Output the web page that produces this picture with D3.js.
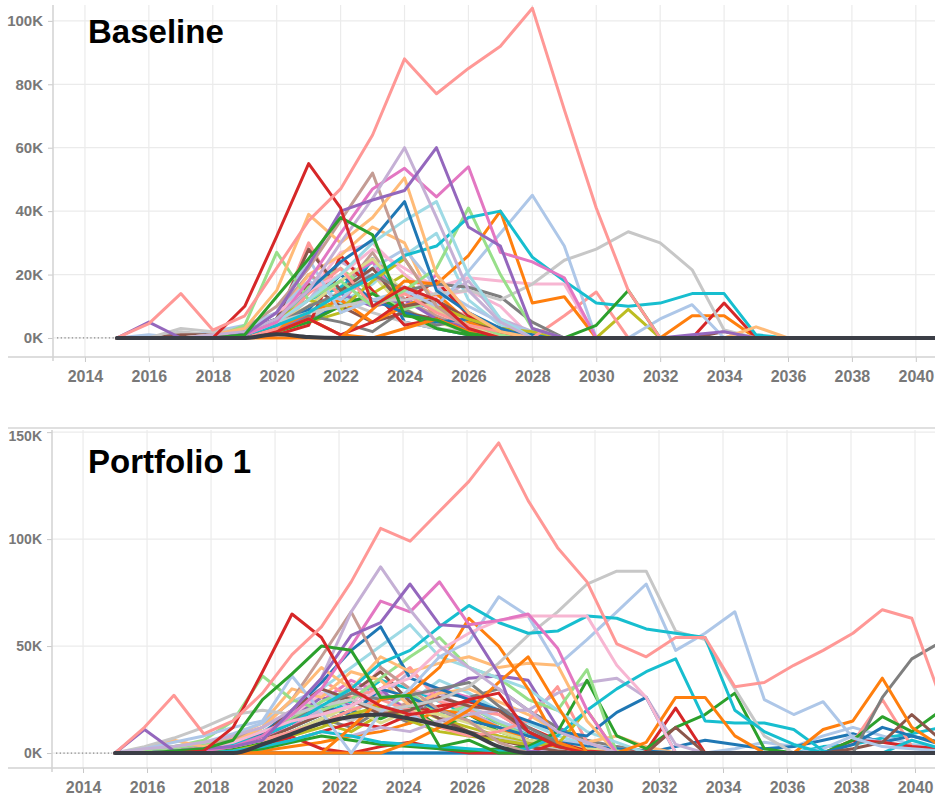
<!DOCTYPE html>
<html>
<head>
<meta charset="utf-8">
<script src="https://cdn.jsdelivr.net/npm/d3@7"></script>
<style>
  body { margin: 0; background: #fff; }
  svg { display: block; }
</style>
</head>
<body>
<svg id="chart" width="935" height="795"></svg>
<script>
// ---- Time axes -------------------------------------------------------------
const baselineYears = [2015, 2016, 2017, 2018, 2019, 2020, 2021, 2022, 2023, 2024,
  2025, 2026, 2027, 2028, 2029, 2030, 2031, 2032, 2033, 2034,
  2035, 2036, 2037, 2038, 2039, 2040, 2041];
const portfolioYears = [2015.00, 2015.92, 2016.84, 2017.77, 2018.69, 2019.61, 2020.53,
  2021.45, 2022.38, 2023.30, 2024.22, 2025.14, 2026.06, 2026.99, 2027.91, 2028.83,
  2029.75, 2030.68, 2031.60, 2032.52, 2033.44, 2034.37, 2035.29, 2036.21, 2037.13,
  2038.06, 2038.98, 2039.90, 2040.82];

const yearTicks = [2014, 2016, 2018, 2020, 2022, 2024, 2026, 2028, 2030, 2032, 2034, 2036, 2038, 2040];
const baselineValueTicks = [0, 20, 40, 60, 80, 100];
const portfolioValueTicks = [0, 50, 100, 150];

// ---- Baseline: volume per line item, thousands ----------------------------
const baselineVolumes = [
  [0,4.5,14,2.5,7, 22,37,47,64,88, 77,85,92,104,72, 41,15,0,0,0, 0,0,0,0,0, 0,0],
  [0,0,0,0,10, 32,55,41,10,16, 12,3,0,0,0, 0,0,0,0,0, 0,0,0,0,0, 0,0],
  [0,0,0,0,1, 13,25,38,32.5,7, 5.7,1.5,0,0,0, 4,15,0,0,0, 0,0,0,0,0, 0,0],
  [0,5,0,0,1, 8,23,40,43.5,46.5, 60,35,29,3,0, 0,0,0,1,2, 0,0,0,0,0, 0,0],
  [0,0,0,1,2, 6,15,30,44,60, 38,15,5,0,0, 0,0,0,0,0, 0,0,0,0,0, 0,0],
  [0,0,0,0,1, 5,18,33,47,53.5, 44.5,54,27,24,19, 0,0,0,0,0, 0,0,0,0,0, 0,0],
  [0,0,0,1,3, 15,39,30,38,50.5, 20,8,2,0,0, 0,0,0,0,0, 3.5,0,0,0,0, 0,0],
  [0,0,0,0,3, 10,22,37,52,25, 10,3,0,0,0, 0,0,0,0,0, 0,0,0,0,0, 0,0],
  [0,0,0,0,2, 6,15,24,31,43, 15,8,3,0,0, 0,0,0,0,0, 0,0,0,0,0, 0,0],
  [0,0,0,0,1, 5,12,20,30,37, 43,20,6,0,0, 0,0,0,0,0, 0,0,0,0,0, 0,0],
  [0,0,0,0,1, 4,8,14,19,26, 29,38,40,25.5,18, 11,10,11,14,14, 1,0,0,0,0, 0,0],
  [0,0,0,0,4, 27,12,18,10,15, 22,41,20,3,0, 0,0,0,0,0, 0,0,0,0,0, 0,0],
  [0,0,0,0,0, 0,0,0,9,18, 17,26,40,11,13, 0,0,0,0,0, 0,0,0,0,0, 0,0],
  [0,0,0,1,2, 8,25,8,12,15, 10,21,33,45,29, 0,0,6,10.5,0, 0,0,0,0,0, 0,0],
  [0,0,3,2,3, 5,8,10,12,12, 14,15,12,17,24.5, 28,33.5,30,21.5,2.5, 0,0,0,0,0, 0,0],
  [0,0,0,0,1, 4,10,14,20,15, 17,16,13,5,0, 0,0,0,0,0, 0,0,0,0,0, 0,0],
  [0,0,0,0,2, 8,15,20,28,22, 16,19,18,17,17, 0,0,0,0,0, 0,0,0,0,0, 0,0],
  [0,0,0,0,0, 3,14,22,10,14, 8,4,2,0,7, 14.5,0,0,0,0, 0,0,0,0,0, 0,0],
  [0,0,0,0,1, 6,12,9,18,25, 10,6,3,2,0, 0,9,0,0,0, 0,0,0,0,0, 0,0],
  [0,0,0,0,0, 2,6,1,5,12, 18,7,3,0,0, 0,0,0,0,11, 0,0,0,0,0, 0,0],
  [0,0,0,0,0, 2,6,1,0,3, 6,2,0,0,0, 0,0,0,7,7, 0,0,0,0,0, 0,0],
  [0,0,1,1,2, 6,28,15,22,10, 12,6,2,0,0, 0,0,0,0,2, 0,0,0,0,0, 0,0],
  [0,0,0,0,1, 5,10,18,25,14, 9,4,0,0,0, 0,0,0,0,0, 0,0,0,0,0, 0,0],
  [0,0,0,0,1, 4,9,20,12,8, 5,6,3,1,0, 0,0,0,0,0, 0,0,0,0,0, 0,0],
  [0,1,0,2,4, 8,18,12,22,28, 16,10,5,2,0, 0,0,0,0,0, 0,0,0,0,0, 0,0],
  [0,0,0,0,0, 3,8,12,5,10, 14,5,2,0,0, 0,0,0,0,0, 0,0,0,0,0, 0,0],
  [0,0,0,0,2, 6,20,26,35,30, 9,6,2,0,0, 0,0,0,0,0, 0,0,0,0,0, 0,0],
  [0,0,0,0,0, 2,5,10,14,8, 3,1,0,0,0, 0,0,0,0,0, 0,0,0,0,0, 0,0],
  [0,0,0,0,1, 3,16,22,14,9, 12,5,1,0,0, 0,0,0,0,0, 0,0,0,0,0, 0,0],
  [0,0,0,0,0, 1,4,26,15,4, 6,2,0,0,0, 0,0,0,0,0, 0,0,0,0,0, 0,0],
  [0,0,0,0,1, 5,30,12,20,14, 10,7,3,1,0, 0,0,0,0,0, 0,0,0,0,0, 0,0],
  [0,0,0,0,1, 2,8,14,10,12, 6,3,1,0,0, 0,0,0,0,0, 0,0,0,0,0, 0,0],
  [0,0,0,0,1, 4,12,24,19,16, 11,18,6,2,0, 0,0,0,0,0, 0,0,0,0,0, 0,0],
  [0,0,0,0,0, 3,17,10,5,8, 6,2,0,0,0, 0,0,0,0,0, 0,0,0,0,0, 0,0],
  [0,0,0,1,3, 8,20,14,27,12, 7,3,1,0,0, 0,0,0,0,0, 0,0,0,0,0, 0,0],
  [0,0,0,0,1, 4,10,18,24,10, 20,8,2,0,0, 0,0,0,0,0, 0,0,0,0,0, 0,0],
  [0,0,0,0,2, 5,14,27,30,20, 13,15,10,0,0, 0,0,0,0,0, 0,0,0,0,0, 0,0],
  [0,0,0,0,0, 2,7,5,2,9, 4,6,2,1,0, 0,0,0,0,0, 0,0,0,0,0, 0,0],
  [0,0,2,1,2, 3,6,12,8,5, 3,2,1,0,0, 0,0,0,0,0, 0,0,0,0,0, 0,0],
  [0,0,0,0,0, 2,5,8,14,20, 6,2,0,0,0, 0,0,0,0,0, 0,0,0,0,0, 0,0],
  [0,0,0,0,1, 3,8,15,20,9, 5,2,0,0,0, 0,0,0,0,0, 0,0,0,0,0, 0,0],
  [0,0,0,0,2, 6,12,16,24,12, 9,5,3,0,0, 0,0,0,0,0, 0,0,0,0,0, 0,0],
  [0,0,0,0,3, 8,20,11,17,26, 33,12,4,0,0, 0,0,0,0,0, 0,0,0,0,0, 0,0],
  [0,0,0,0,1, 3,6,10,25,5, 3,1,0,0,0, 0,0,0,0,0, 0,0,0,0,0, 0,0],
  [0,0,0,0,0, 1.2,0.3,0,0,0, 0,0,0,0,0, 0,0,0,0,0, 0,0,0,0,0, 0,0]
];

// ---- Portfolio 1: volume per line item, thousands -------------------------
const portfolioVolumes = [
  [0,12,27,9,15, 28,46,59,80,105, 99,113,127,145,118, 96,80,51,45,54, 54,31,33,41,48, 56,67,63,25],
  [0,0,0,1,12, 38,65,54,30,22, 18,20,25,28,10, 3,0,0,0,0, 0,0,0,0,0, 0,0,0,0],
  [0,0,1,2,6, 25,37,50,48,26, 27,3,6,0,0, 0,0,0,0,0, 0,0,0,0,0, 0,0,0,0],
  [0,11,1,2,3, 6,20,35,55,61, 79,60,59,37,1, 0,0,0,0,0, 0,0,0,0,0, 0,0,0,0],
  [0,2,3,5,8, 12,20,35,66,87, 67,50,40,30,20, 10,5,0,0,0, 0,0,0,0,0, 0,0,0,0],
  [0,0,0,1,3, 8,18,30,50,71, 66,80,60,62,65, 49,20,0,0,0, 0,0,0,0,0, 0,0,0,0],
  [0,0,1,2,5, 10,15,18,22,30, 35,48,56,62,64, 64,64,41,26,0, 0,0,0,0,0, 0,0,0,0],
  [0,0,1,2,4, 8,14,22,30,42, 48,59,69,61,56, 57,64,63,58,56, 54,20,10,4,0, 0,0,0,0],
  [0,2,5,8,12, 15,36,19,0,19, 30,45,52,73,64, 41,53,66,79,48, 56,66,25,18,24, 7,3,2,1],
  [0,3,7,12,18, 20,18,22,25,20, 22,25,31,42,55, 66,79,85,85,57, 53,30,8,0,0, 0,0,0,0],
  [0,0,0,0,0, 0,0,0,12,25, 28,40,63,50,30, 5,0,0,0,0, 0,0,0,0,0, 0,0,0,0],
  [0,0,0,0,0, 0,0,0,0,0, 5,12,20,33,45, 22,0,0,5,26, 26,8,0,0,11, 15,35,12,3],
  [0,2,6,3,5, 12,25,40,30,45, 38,42,45,40,42, 41,15,0,0,0, 0,0,0,0,0, 0,0,0,0],
  [0,0,0,1,3, 8,15,22,28,25, 27,30,33,22,12, 5,0,0,0,0, 0,0,0,0,0, 0,26,44,52],
  [0,0,1,2,4, 8,20,30,25,18, 20,26,22,20,10, 4,0,0,0,12, 0,0,0,0,0, 2,5,18,6],
  [0,0,1,3,6, 12,25,45,66,40, 30,20,15,5,0, 0,0,0,0,0, 0,0,0,0,0, 0,0,0,0],
  [0,0,1,2,4, 9,20,33,48,59, 35,30,25,20,15, 10,8,19,26,0, 0,0,0,0,0, 4,12,8,5],
  [0,0,1,3,6, 10,18,30,40,50, 60,45,40,35,30, 20,10,5,0,0, 0,0,0,0,0, 0,0,0,0],
  [0,0,0,0,1, 3,6,10,8,5, 4,3,2,1,2, 8,20,30,38,44, 15,14,14,11,1, 0,0,6,2],
  [0,1,3,6,15, 36,25,20,25,35, 45,54,40,35,25, 20,39,0,0,0, 0,0,0,0,0, 0,0,0,0],
  [0,0,0,0,0, 2,5,8,6,4, 3,2,1,2,3, 10,34,8,2,12, 18,28,2,0,0, 6,17,10,20],
  [0,0,0,0,0, 2,6,10,8,12, 10,15,18,20,20, 28,33,35,26,4, 0,0,0,0,0, 0,0,0,0],
  [0,0,0,0,0, 3,7.5,2,0,3, 5,2,0,0,0, 5,1,0,1,21, 0,0,0,0,0, 6,5,3,2],
  [0,0,0,1,3, 6,10,14,20,25, 20,12,8,10,15, 31,5,0,0,0, 0,0,0,0,0, 5,25,3,0],
  [0,0,0,0,1, 4,8,12,18,22, 15,10,8,6,4, 4,20,0,0,0, 0,0,0,0,0, 0,0,0,0],
  [0,0,1,2,3, 6,10,16,22,14, 20,18,14,10,6, 4,2,1,0,0, 0,0,0,0,0, 0,0,0,0],
  [0,0,0,1,3, 8,14,22,18,30, 26,20,15,12,8, 5,3,2,1,0, 0,0,0,0,0, 0,0,0,0],
  [0,1,3,5,9, 14,24,30,20,26, 18,12,22,15,10, 6,4,2,1,0, 0,0,0,0,2, 8,5,3,1],
  [0,0,0,0,0, 1,3,5,8,10, 14,20,18,12,6, 3,1,0,0,0, 0,0,0,0,0, 0,0,0,0],
  [0,1,3,5,8, 14,30,26,38,34, 22,28,30,24,18, 10,5,8,3,0, 0,0,0,0,0, 0,0,0,0],
  [0,0,0,1,2, 5,9,14,20,16, 22,12,18,10,6, 3,1,0,0,0, 0,0,0,0,0, 0,0,0,0],
  [0,0,2,4,6, 10,16,24,30,20, 28,18,22,14,8, 4,2,0,0,0, 0,0,0,0,0, 0,0,0,0],
  [0,0,0,0,1, 3,6,10,14,12, 18,22,24,20,12, 6,2,0,0,0, 0,0,0,0,0, 0,0,0,0],
  [0,1,2,4,7, 12,20,34,26,30, 40,24,20,18,10, 6,3,0,0,0, 0,0,0,0,0, 0,0,0,0],
  [0,0,1,2,4, 8,16,26,22,30, 18,28,35,36,34, 12,4,0,0,0, 0,0,0,0,0, 0,0,0,0],
  [0,0,1,3,5, 9,14,20,32,26, 38,28,20,12,6, 3,0,0,0,0, 0,0,0,0,0, 0,0,0,0],
  [0,0,0,1,3, 6,12,18,28,38, 24,16,10,6,3, 1,0,0,0,0, 0,0,0,0,0, 0,0,0,0],
  [0,0,1,2,4, 8,14,20,30,18, 24,16,20,12,8, 4,2,0,0,0, 0,0,0,0,0, 0,0,0,0],
  [0,0,0,1,3, 7,12,24,34,28, 20,30,26,18,10, 5,2,0,0,0, 0,0,0,0,0, 0,0,0,0],
  [0,1,2,3,6, 10,16,28,22,40, 30,26,18,12,8, 4,2,0,0,0, 0,0,0,0,0, 0,0,0,0],
  [0,0,1,2,3, 5,10,16,12,20, 14,28,26,30,20, 12,6,3,1,0, 0,0,0,0,0, 0,0,0,0],
  [0,1,2,3,5, 9,14,19,15,22, 18,14,10,7,4, 2,1,0,0,0, 0,0,0,0,0, 0,0,0,0],
  [0,0,0,1,2, 4,8,14,10,18, 22,16,12,8,5, 2,1,0,0,0, 0,0,0,0,0, 0,0,0,0],
  [0,0,1,2,4, 7,12,18,24,34, 30,24,18,14,9, 5,3,1,0,0, 0,0,0,0,0, 0,0,0,0],
  [0,1,2,4,6, 10,16,22,18,28, 24,34,28,20,14, 8,4,2,0,0, 0,0,0,0,0, 0,0,0,0],
  [0,0,0,0,0, 0,0,0,0,0, 0,0,0,0,0, 0,0,0,0,3, 6,4,2,3,6, 9,5,8,4],
  [0,0,0,0,0, 0,0,0,0,0, 0,0,0,0,0, 0,0,0,0,0, 0,2,5,3,8, 12,8,4,2],
  [0,0,0,0,0, 0,0,0,0,0, 0,0,0,0,0, 0,0,0,0,0, 0,0,0,0,3, 4,7,9,12],
  [0,0,0,0,0, 4,9,14,17,18, 16,13,9.5,3,0, 0,0,0,0,0, 0,0,0,0,0, 0,0,0,0]
];

// ---- Line colours (one per row above, same order) -------------------------
const C = {
  blue: "#1f77b4", lblue: "#aec7e8", orange: "#ff7f0e", lorange: "#ffbb78",
  green: "#2ca02c", lgreen: "#98df8a", red: "#d62728", lred: "#ff9896",
  purple: "#9467bd", lpurple: "#c5b0d5", brown: "#8c564b", lbrown: "#c49c94",
  pink: "#e377c2", lpink: "#f7b6d2", gray: "#7f7f7f", lgray: "#c7c7c7",
  olive: "#bcbd22", lolive: "#dbdb8d", cyan: "#17becf", lcyan: "#9edae5",
  dark: "#3b3e46"
};
const baselineColors = [
  C.lred, C.red, C.green, C.purple, C.lpurple, C.pink, C.lorange, C.lbrown, C.blue, C.lcyan,
  C.cyan, C.lgreen, C.orange, C.lblue, C.lgray, C.gray, C.lpink, C.lred, C.olive, C.red,
  C.orange, C.brown, C.lolive, C.blue, C.lblue, C.orange, C.lorange, C.green, C.lgreen, C.red,
  C.lred, C.purple, C.lpurple, C.brown, C.lbrown, C.pink, C.lpink, C.gray, C.lgray, C.olive,
  C.lolive, C.cyan, C.lcyan, C.blue, C.dark
];
const portfolioColors = [
  C.lred, C.red, C.green, C.purple, C.lpurple, C.pink, C.lpink, C.cyan, C.lblue, C.lgray,
  C.orange, C.orange, C.lorange, C.gray, C.brown, C.lbrown, C.blue, C.lcyan, C.cyan, C.lgreen,
  C.green, C.lpurple, C.red, C.lred, C.olive, C.lolive, C.blue, C.lblue, C.orange, C.lorange,
  C.green, C.lgreen, C.red, C.lred, C.purple, C.lpurple, C.brown, C.lbrown, C.pink, C.lpink,
  C.gray, C.lgray, C.olive, C.cyan, C.lcyan, C.blue, C.lblue, C.cyan, C.dark
];

// ---- Drawing ---------------------------------------------------------------
const svg = d3.select("#chart");
const FONT = "'Liberation Sans', Arial, sans-serif";

function drawPanel(p) {
  const x = d3.scaleLinear().domain(p.xDomain).range([p.left, 935]);
  const y = d3.scaleLinear().domain(p.yDomain).range([p.bottom, p.top]);
  const g = svg.append("g");

  if (p.frameTop != null) {
    g.append("line").attr("x1", 8).attr("x2", 935)
      .attr("y1", p.frameTop).attr("y2", p.frameTop)
      .attr("stroke", "#d6d6d6").attr("stroke-width", 1.5);
  }

  // grid
  g.append("g").selectAll("line").data(yearTicks).join("line")
    .attr("x1", d => x(d)).attr("x2", d => x(d))
    .attr("y1", p.top).attr("y2", p.bottom)
    .attr("stroke", "#ebebeb").attr("stroke-width", 1.2);
  g.append("g").selectAll("line").data(p.valueTicks).join("line")
    .attr("x1", p.left).attr("x2", 935)
    .attr("y1", d => y(d)).attr("y2", d => y(d))
    .attr("stroke", "#ebebeb").attr("stroke-width", 1.2);

  // axes
  const xAxis = g.append("g").attr("transform", `translate(0,${p.bottom})`)
    .call(d3.axisBottom(x).tickValues(yearTicks).tickFormat(d3.format("d"))
      .tickSize(5).tickPadding(9));
  const yAxis = g.append("g").attr("transform", `translate(${p.left},0)`)
    .call(d3.axisLeft(y).tickValues(p.valueTicks).tickFormat(d => d + "K")
      .tickSize(5).tickPadding(5));
  [xAxis, yAxis].forEach(a => {
    a.select(".domain").remove();
    a.selectAll(".tick line").attr("stroke", "#c8c8c8");
    a.selectAll(".tick text")
      .attr("font-family", FONT).attr("font-weight", "bold")
      .attr("fill", "#787878");
  });
  xAxis.selectAll(".tick text").attr("font-size", 16);
  yAxis.selectAll(".tick text").attr("font-size", p.yLabelSize);
  yAxis.selectAll(".tick text").filter(d => y(d) - p.top < 6).attr("dy", "0.62em");

  g.append("line").attr("x1", 8).attr("x2", 935)
    .attr("y1", p.bottom).attr("y2", p.bottom)
    .attr("stroke", "#d2d2d2").attr("stroke-width", 1.5);
  g.append("line").attr("x1", p.left).attr("x2", p.left)
    .attr("y1", p.top).attr("y2", p.bottom + 4)
    .attr("stroke", "#d2d2d2").attr("stroke-width", 1.5);

  // dotted lead-in along zero before the first period
  g.append("line")
    .attr("x1", p.left + 4).attr("x2", x(p.years[0]) - 3)
    .attr("y1", y(0)).attr("y2", y(0))
    .attr("stroke", "#8a8a8a").attr("stroke-width", 1.3)
    .attr("stroke-dasharray", "1.3,2.4");

  // series
  const clipId = "clip" + p.id;
  svg.append("clipPath").attr("id", clipId).append("rect")
    .attr("x", p.left).attr("y", p.top - 2).attr("width", 935 - p.left).attr("height", p.bottom - p.top);

  const n = p.rows.length;
  const order = d3.range(n - 1).reverse().concat([n - 1]);
  const lineStraight = d3.line().x((d, i) => x(p.years[i])).y(d => y(d));
  const lineSmooth = d3.line().x((d, i) => x(p.years[i])).y(d => y(d)).curve(d3.curveMonotoneX);

  g.append("g").attr("clip-path", `url(#${clipId})`)
    .selectAll("path").data(order).join("path")
    .attr("d", k => (p.colors[k] === C.dark ? lineSmooth : lineStraight)(p.rows[k]))
    .attr("fill", "none")
    .attr("stroke", k => p.colors[k])
    .attr("stroke-width", k => p.colors[k] === C.dark ? 4 : 3)
    .attr("stroke-linejoin", "round")
    .attr("stroke-linecap", "round");

  g.append("text").attr("x", 88).attr("y", p.titleY)
    .attr("font-family", FONT).attr("font-weight", "bold").attr("font-size", 33)
    .attr("fill", "#000").text(p.title);
}

drawPanel({
  id: "Base", title: "Baseline", titleY: 43,
  left: 53, top: 5, bottom: 357,
  xDomain: [2013.0, 2040.6], yDomain: [-6, 105],
  years: baselineYears, rows: baselineVolumes, colors: baselineColors,
  valueTicks: baselineValueTicks, frameTop: null, yLabelSize: 15
});

drawPanel({
  id: "Port", title: "Portfolio 1", titleY: 473,
  left: 52, top: 430, bottom: 768,
  xDomain: [2013.03, 2040.625], yDomain: [-7, 151],
  years: portfolioYears, rows: portfolioVolumes, colors: portfolioColors,
  valueTicks: portfolioValueTicks, frameTop: 428, yLabelSize: 14
});
</script>
</body>
</html>
